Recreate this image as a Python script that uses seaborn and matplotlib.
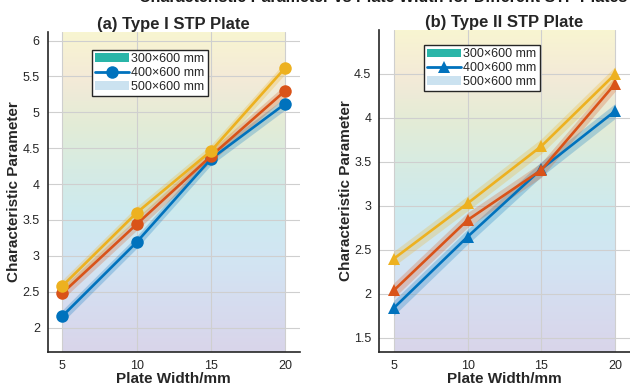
import numpy as np
import pandas as pd
import matplotlib
matplotlib.use("Agg")
import matplotlib.pyplot as plt
import seaborn as sns
from matplotlib.colors import LinearSegmentedColormap
from matplotlib.patches import Patch
from matplotlib.lines import Line2D

# ---------------- data ----------------
plate_width = [5, 10, 15, 20]
sizes = ["300×600 mm", "400×600 mm", "500×600 mm"]

type1_300 = [2.16, 3.19, 4.35, 5.12]
type1_400 = [2.48, 3.44, 4.39, 5.30]
type1_500 = [2.58, 3.60, 4.46, 5.62]

type2_300 = [1.84, 2.65, 3.42, 4.08]
type2_400 = [2.04, 2.84, 3.41, 4.39]
type2_500 = [2.40, 3.03, 3.68, 4.50]

band_half = 0.085
panel_titles = ["(a) Type I STP Plate", "(b) Type II STP Plate"]
suptitle = "Characteristic Parameter vs Plate Width for Different STP Plates"

colors = ["#0072BD", "#D95319", "#EDB120"]
markers = ["o", "^"]

# ---------------- style ----------------
sns.set_theme(style="whitegrid")
plt.rcParams["font.family"] = ["Liberation Sans", "DejaVu Sans"]
plt.rcParams["axes.unicode_minus"] = False

fig = plt.figure(figsize=(6.3, 3.83), dpi=100)
ax1 = fig.add_axes([47.5 / 630, 31 / 383, 252.5 / 630, 320 / 383])
ax2 = fig.add_axes([379 / 630, 31 / 383, 251 / 630, 322 / 383])

bg_cmap = LinearSegmentedColormap.from_list(
    "bg",
    ["#d9d5ea", "#d6dcef", "#d2e5f3", "#cdeaef", "#d6ebe3", "#e3ecd6",
     "#f4ead8", "#f8f5d1"],
)


def make_df(series):
    rows = []
    for name, vals in zip(sizes, series):
        for x, y in zip(plate_width, vals):
            rows.append({"Plate Width": x, "Value": y, "Size": name})
    return pd.DataFrame(rows)


panels = [
    (ax1, [type1_300, type1_400, type1_500], markers[0], (4, 21)),
    (ax2, [type2_300, type2_400, type2_500], markers[1], (4, 21)),
]

for i, (ax, series, mk, xl) in enumerate(panels):
    df = make_df(series)
    allv = np.concatenate([np.array(s) for s in series])
    ylo, yhi = allv.min() - 0.5, allv.max() + 0.5

    # gradient background
    grad = np.linspace(0, 1, 256).reshape(-1, 1)
    ax.imshow(grad, extent=[plate_width[0], plate_width[-1], ylo, yhi],
              origin="lower", aspect="auto", cmap=bg_cmap, zorder=0)

    # bands
    for s, c in zip(series, colors):
        s = np.array(s)
        ax.fill_between(plate_width, s - band_half, s + band_half,
                        color=c, alpha=0.25, linewidth=0, zorder=2)

    sns.lineplot(data=df, x="Plate Width", y="Value", hue="Size",
                 palette=colors, marker=mk, markersize=9,
                 markeredgewidth=0, linewidth=1.9, ax=ax, legend=False,
                 zorder=3)

    ax.set_xlim(*xl)
    ax.set_ylim(ylo, yhi)
    ax.set_xticks(plate_width)
    ax.set_facecolor("white")
    ax.grid(True, color="#cfcfcf", linewidth=0.8)
    for side in ["top", "right"]:
        ax.spines[side].set_visible(False)
    for side in ["left", "bottom"]:
        ax.spines[side].set_color("#262626")
        ax.spines[side].set_linewidth(1.2)
    ax.tick_params(axis="both", which="major", direction="out", length=3,
                   width=0.8, color="#262626", labelsize=9,
                   labelcolor="#262626", pad=2.5)
    ax.set_xlabel("Plate Width/mm", fontsize=11, fontweight="bold", labelpad=0)
    ax.set_ylabel("Characteristic Parameter", fontsize=11, fontweight="bold",
                  labelpad=1)
    ax.set_title(panel_titles[i], fontsize=12, fontweight="bold", pad=2)

    handles = [
        Patch(facecolor="#2ab5a8", edgecolor="none"),
        Line2D([0], [0], color=colors[0], lw=2, marker=mk, markersize=9,
               markeredgewidth=0),
        Patch(facecolor="#cbe2f0", edgecolor="none"),
    ]
    anchor = (0.176, 0.944) if i == 0 else (0.179, 0.953)
    leg = ax.legend(handles, sizes, loc="upper left", bbox_to_anchor=anchor,
                    borderaxespad=0, fontsize=9, frameon=True, fancybox=False,
                    handlelength=2.7, handletextpad=0.2, borderpad=0.25,
                    labelspacing=0.15)
    leg.get_frame().set_edgecolor("#262626")
    leg.get_frame().set_linewidth(1.0)
    leg.get_frame().set_alpha(1)

ax1.set_yticks([2, 2.5, 3, 3.5, 4, 4.5, 5, 5.5, 6])
ax1.set_yticklabels(["2", "2.5", "3", "3.5", "4", "4.5", "5", "5.5", "6"])
ax2.set_yticks([1.5, 2, 2.5, 3, 3.5, 4, 4.5])
ax2.set_yticklabels(["1.5", "2", "2.5", "3", "3.5", "4", "4.5"])

fig.text(383 / 630, 1.0 + 2 / 383, suptitle, ha="center", va="center",
         fontsize=11.5, fontweight="bold", color="#1a1a1a")

fig.savefig("out.png", dpi=100)
